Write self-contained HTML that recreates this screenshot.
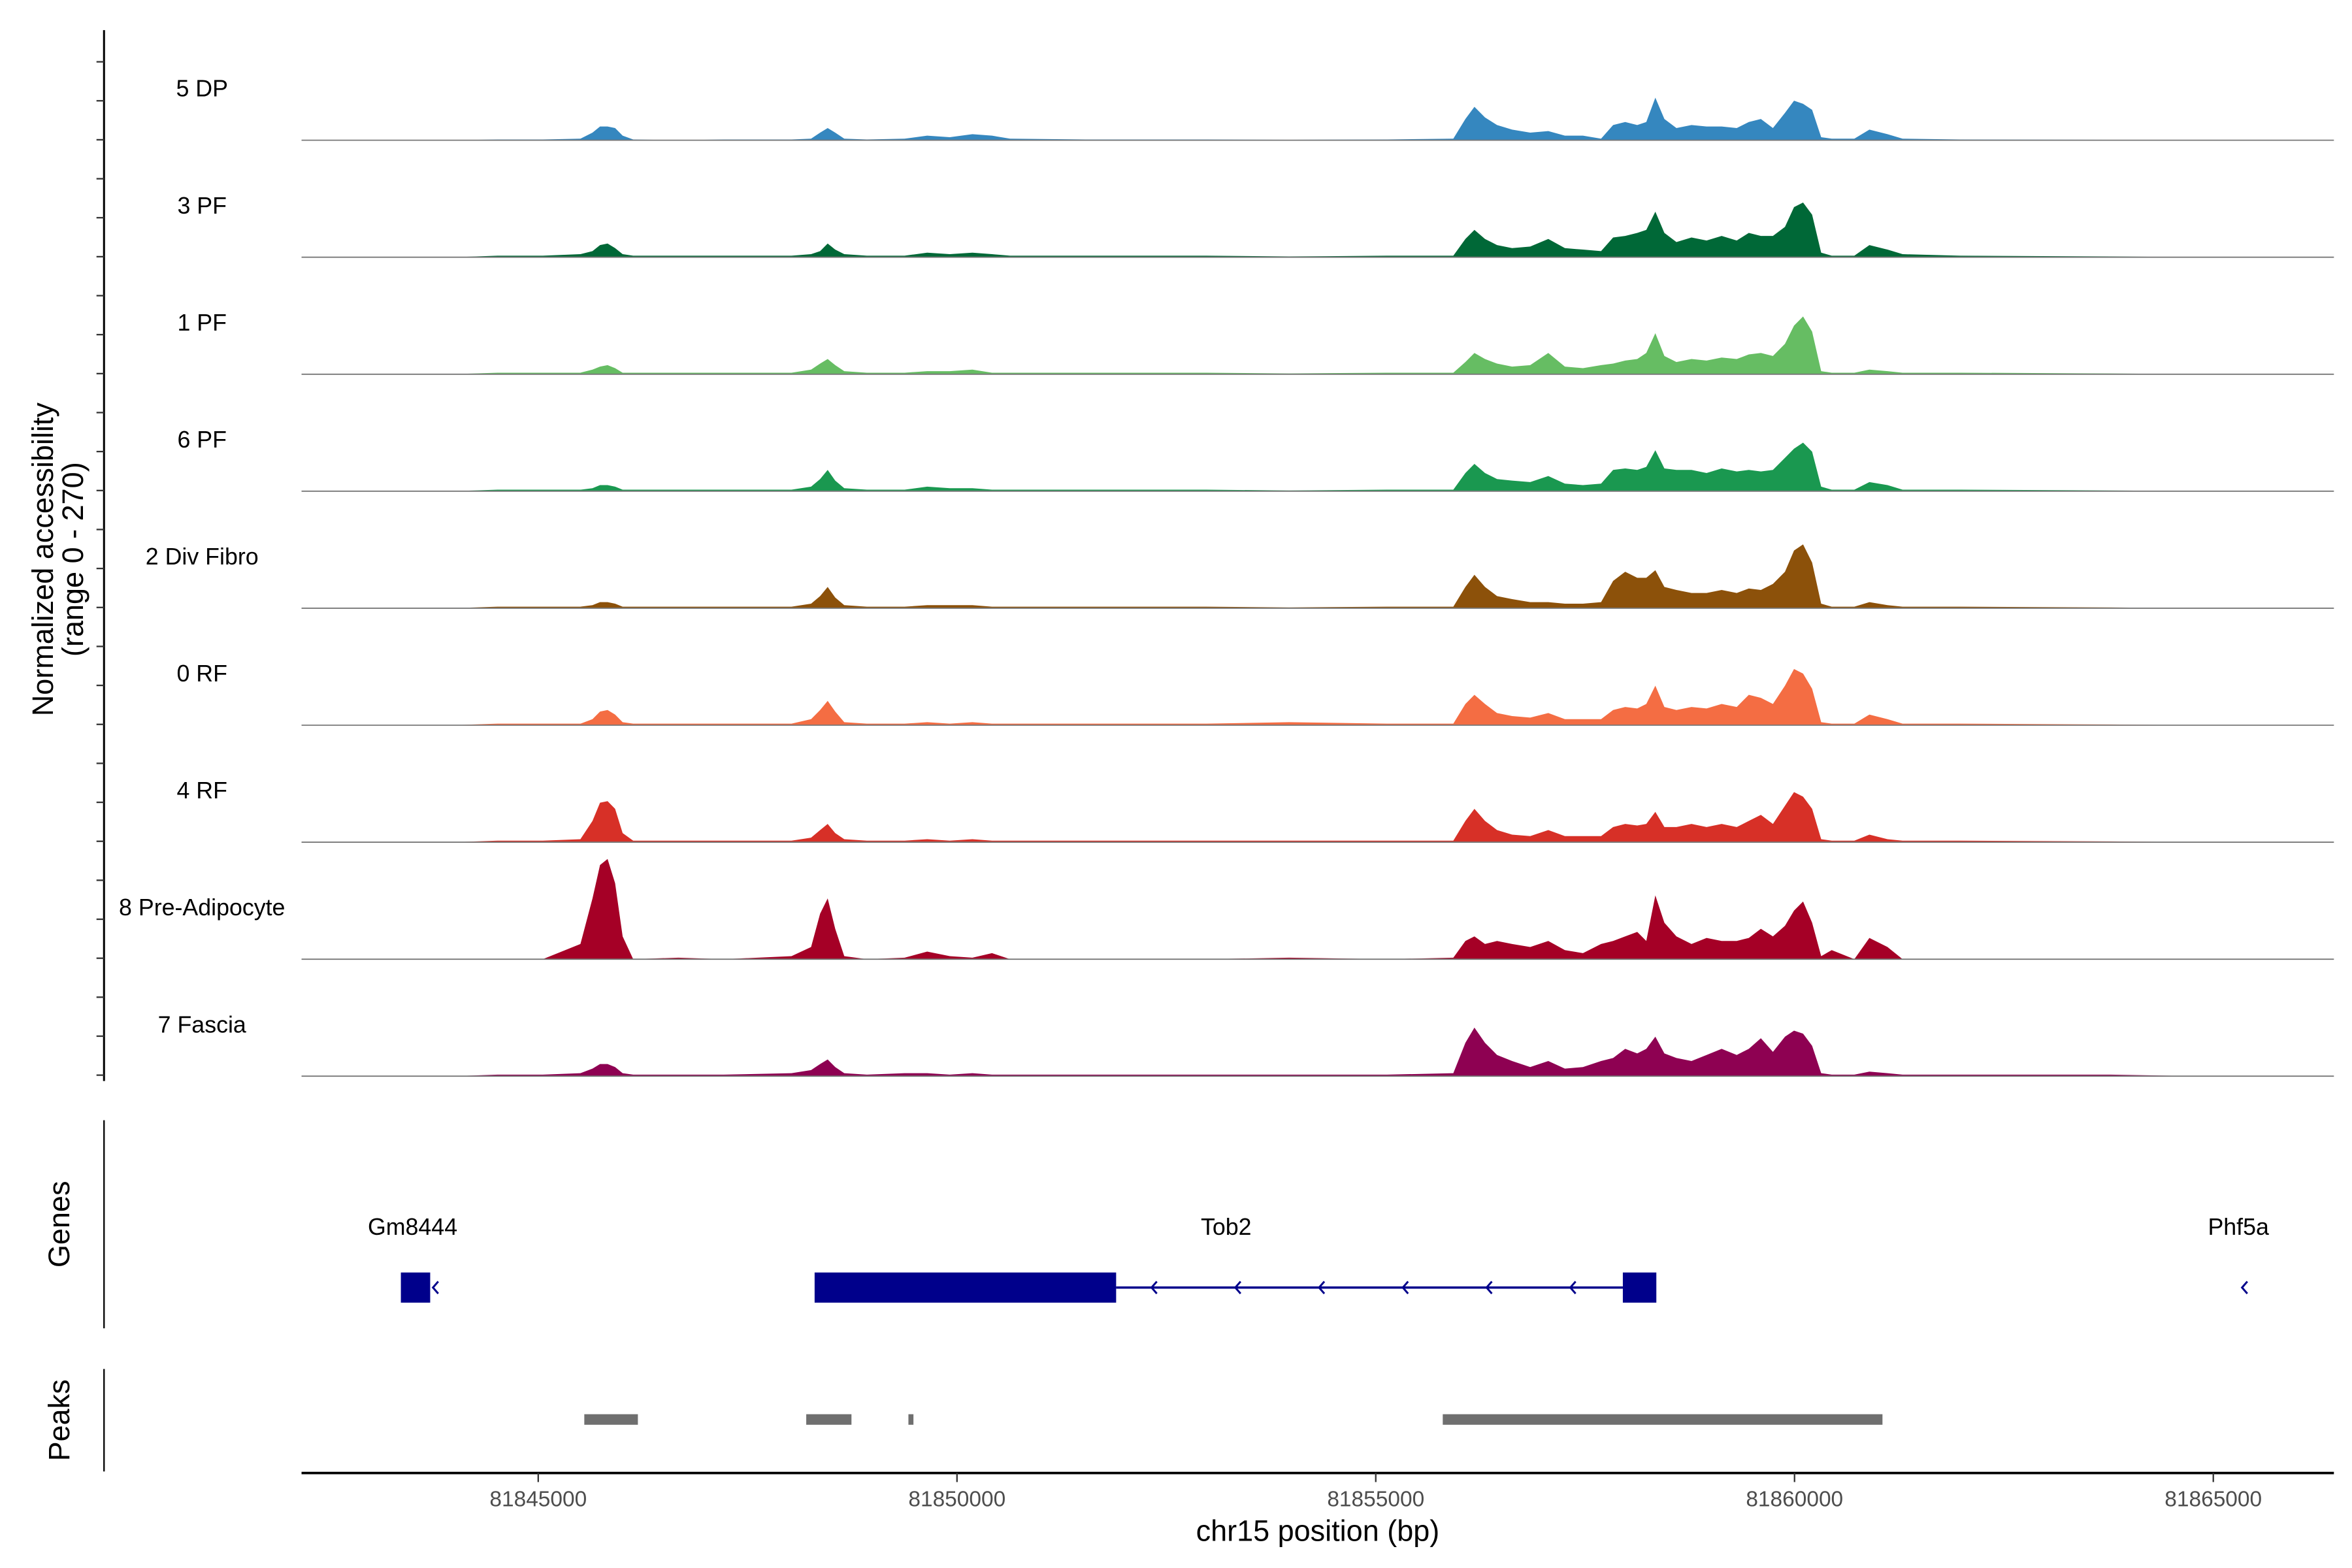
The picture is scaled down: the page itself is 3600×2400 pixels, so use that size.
<!DOCTYPE html>
<html><head><meta charset="utf-8"><style>
html,body{margin:0;padding:0;background:#fff}
svg{display:block}
text{font-family:"Liberation Sans",Arial,sans-serif}
</style></head><body>
<svg id="chart" xmlns="http://www.w3.org/2000/svg" width="3600" height="2400" viewBox="0 0 1560 1040">
<rect width="1560" height="1040" fill="#fff"/>
<g id="tracks"></g>
<g id="yaxis"></g>
<text transform="translate(35,371) rotate(-90)" text-anchor="middle" font-size="19.5">Normalized accessibility</text>
<text transform="translate(55,371) rotate(-90)" text-anchor="middle" font-size="19.5">(range 0 - 270)</text>
<line x1="69" y1="743" x2="69" y2="881" stroke="#000" stroke-width="1"/>
<text transform="translate(46,812) rotate(-90)" text-anchor="middle" font-size="19.5">Genes</text>
<g id="genes"></g>
<line x1="69" y1="908" x2="69" y2="976" stroke="#000" stroke-width="1"/>
<text transform="translate(46,942) rotate(-90)" text-anchor="middle" font-size="19.5">Peaks</text>
<g id="peaks"></g>
<g id="xaxis"></g>
<text x="874" y="1022" text-anchor="middle" font-size="19.5">chr15 position (bp)</text>
</svg>
<script>
const positions=[81843974,81844514,81845054,81845504,81845648,81845738,81845828,81845918,81846008,81846134,81846674,81847214,81848024,81848258,81848366,81848456,81848546,81848654,81848924,81849374,81849644,81849914,81850184,81850418,81850634,81851534,81852974,81853964,81855134,81855926,81856070,81856178,81856304,81856448,81856628,81856844,81857060,81857258,81857474,81857690,81857834,81857978,81858122,81858230,81858338,81858446,81858590,81858770,81858950,81859130,81859310,81859454,81859598,81859742,81859886,81859994,81860102,81860210,81860318,81860444,81860714,81860894,81861110,81861290,81861974,81863774,81864854];
const trackNames=["5 DP","3 PF","1 PF","6 PF","2 Div Fibro","0 RF","4 RF","8 Pre-Adipocyte","7 Fascia"];
const trackColors=["#3587bf","#006837","#66bd63","#1a9850","#8c510a","#f46d43","#d73027","#a50026","#8e0152"];
const dp5=[0,2,2,4,20,36,36,32,12,2,0,2,2,4,20,32,20,4,2,4,12,8,16,12,4,2,2,1,2,4,56,88,60,40,28,20,24,12,12,4,40,48,40,48,112,56,32,40,36,36,32,48,56,32,72,104,96,80,8,4,4,28,16,4,2,1,0];
const pf3=[0,4,4,8,16,32,36,24,8,4,4,4,4,8,16,36,20,8,4,4,12,8,12,8,4,4,4,2,4,4,48,72,48,32,24,28,48,24,20,16,52,56,64,72,120,64,40,52,44,56,44,64,56,56,80,132,144,112,12,4,4,32,20,8,4,2,0];
const pf1=[0,4,4,4,12,20,24,16,4,4,4,4,4,12,28,40,24,8,4,4,8,8,12,4,4,4,4,2,4,4,32,56,40,28,20,24,56,20,16,24,28,36,40,56,108,48,32,40,36,44,40,52,56,48,80,128,152,112,8,4,4,12,8,4,4,2,0];
const pf6=[0,4,4,4,8,16,16,12,4,4,4,4,4,12,32,56,28,8,4,4,12,8,8,4,4,4,4,2,4,4,48,72,48,32,28,24,40,20,16,20,56,60,56,64,108,60,56,56,48,60,52,56,52,56,88,112,128,104,12,4,4,24,16,4,4,2,0];
const divFibro2=[0,4,4,4,8,16,16,12,4,4,4,4,4,12,32,56,28,8,4,4,8,8,8,4,4,4,4,2,4,4,56,88,56,32,24,16,16,12,12,16,72,96,80,80,100,56,48,40,40,48,40,52,48,64,96,152,168,120,12,4,4,16,8,4,4,2,0];
const rf0=[0,4,4,4,16,36,40,28,8,4,4,4,4,16,40,64,36,8,4,4,8,4,8,4,4,4,4,8,4,4,56,80,56,32,24,20,32,16,16,16,40,48,44,56,104,48,40,48,44,56,48,80,72,56,104,148,136,96,8,4,4,28,16,4,4,2,0];
const rf4=[0,4,4,8,56,104,108,88,24,4,4,4,4,12,32,48,24,8,4,4,8,4,8,4,4,4,4,4,4,4,56,88,56,32,20,16,32,16,16,16,40,48,44,48,80,40,40,48,40,48,40,56,72,48,96,132,120,88,8,4,4,20,8,4,4,2,0];
const preAdipocyte8=[0,0,0,40,160,248,264,200,60,0,4,0,8,32,120,160,80,8,0,4,20,8,4,16,0,0,0,4,0,4,48,60,40,48,40,32,48,24,16,40,48,60,72,48,168,96,60,40,56,48,48,56,80,60,88,128,152,96,8,24,0,56,32,0,0,0,0];
const fascia7=[0,4,4,8,20,32,32,24,8,4,4,4,8,16,32,44,24,8,4,8,8,4,8,4,4,4,4,4,4,8,88,128,88,56,40,24,40,20,24,40,48,72,60,72,104,60,48,40,56,72,56,72,100,64,104,120,112,80,8,4,4,12,8,4,4,4,0];
const trackValues=[dp5,pf3,pf1,pf6,divFibro2,rf0,rf4,preAdipocyte8,fascia7];
const xTicks=[81845000,81850000,81855000,81860000,81865000];
const geneNames=["Gm8444","Tob2","Phf5a"];
const geneLabelPos=[81843500,81853214,81865300];
const tob2Exons=[[81848300,81851900],[81857950,81858350]];
const tob2Intron=[81851900,81857950];
const gm8444Exon=[81843360,81843710];
const phf5aArrow=[81865370];
const tob2Arrows=[81852350,81853350,81854350,81855350,81856350,81857350];
const peakStarts=[81845550,81848200,81849420,81855800];
const peakEnds=[81846190,81848740,81849480,81861050];

const NS="http://www.w3.org/2000/svg";
const X0=200,X1=1548,BP0=81842174,BP1=81866440;
function xs(bp){return X0+(bp-BP0)/(BP1-BP0)*(X1-X0);}
const VMAX=270,TRACK_H=68;
function ys(v,base){return base-v/VMAX*TRACK_H;}
function mk(tag,attrs,parent){const e=document.createElementNS(NS,tag);for(const k in attrs)e.setAttribute(k,attrs[k]);parent.appendChild(e);return e;}

const tracks=document.getElementById('tracks');
trackNames.forEach((name,i)=>{
  const base=93+i*77.6;
  const vals=trackValues[i];
  let d="M"+X0+","+base+" L"+xs(positions[0]).toFixed(2)+","+base;
  for(let j=0;j<positions.length;j++){d+=" L"+xs(positions[j]).toFixed(2)+","+ys(vals[j],base).toFixed(2);}
  d+=" L"+xs(positions[positions.length-1]).toFixed(2)+","+base+" Z";
  const p=mk('path',{d:d,fill:trackColors[i]},tracks);
  
  
  const bl=mk('line',{x1:X0,x2:X1,y1:base,y2:base,stroke:'#777','stroke-width':0.8},tracks);
  
  
  const t=mk('text',{x:134,y:base-29,'text-anchor':'middle','font-size':'15.5'},tracks);
  t.textContent=name;
  
  
});

const yaxis=document.getElementById('yaxis');
const ya=mk('line',{x1:69,x2:69,y1:20,y2:717,stroke:'#000','stroke-width':1.3},yaxis);


for(let y=41;y<716;y+=25.85){
  const tk=mk('line',{x1:64,x2:69,y1:y,y2:y,stroke:'#333','stroke-width':1},yaxis);
  
  
}

const genes=document.getElementById('genes');
const GC="#00008b",GY=854;
geneNames.forEach((g,i)=>{
  const t=mk('text',{x:xs(geneLabelPos[i]),y:819,'text-anchor':'middle','font-size':'15.5'},genes);
  t.textContent=g;
  
  
});
const intr=mk('line',{x1:xs(tob2Intron[0]),x2:xs(tob2Intron[1]),y1:GY,y2:GY,stroke:GC,'stroke-width':1.5},genes);


tob2Exons.forEach(e=>{
  const r=mk('rect',{x:xs(e[0]),y:GY-10,width:xs(e[1])-xs(e[0]),height:20,fill:GC},genes);
  
  
});
const ge=mk('rect',{x:xs(gm8444Exon[0]),y:GY-10,width:xs(gm8444Exon[1])-xs(gm8444Exon[0]),height:20,fill:GC},genes);


function chevron(bp,name){
  const x=xs(bp);
  const c=mk('path',{d:`M${x+2},${GY-4} L${x-1.5},${GY} L${x+2},${GY+4}`,fill:'none',stroke:GC,'stroke-width':1.3},genes);
  
  
}
tob2Arrows.forEach(b=>chevron(b,'strand-arrow'));
chevron(phf5aArrow[0],'phf5a-arrow');
chevron(gm8444Exon[1]+60,'gm8444-arrow');

const peaks=document.getElementById('peaks');
peakStarts.forEach((s,i)=>{
  const r=mk('rect',{x:xs(s),y:938,width:Math.max(2,xs(peakEnds[i])-xs(s)),height:7,fill:'#6f6f6f'},peaks);
  
  
});

const xaxis=document.getElementById('xaxis');
const xl=mk('line',{x1:X0,x2:X1,y1:977,y2:977,stroke:'#000','stroke-width':1.6},xaxis);


xTicks.forEach(v=>{
  const x=xs(v);
  const tk=mk('line',{x1:x,x2:x,y1:977,y2:983,stroke:'#333','stroke-width':1},xaxis);
  
  
  const t=mk('text',{x:x,y:999,'text-anchor':'middle','font-size':'14.5',fill:'#4d4d4d'},xaxis);
  t.textContent=String(v);
  
  
});
</script>
</body></html>
